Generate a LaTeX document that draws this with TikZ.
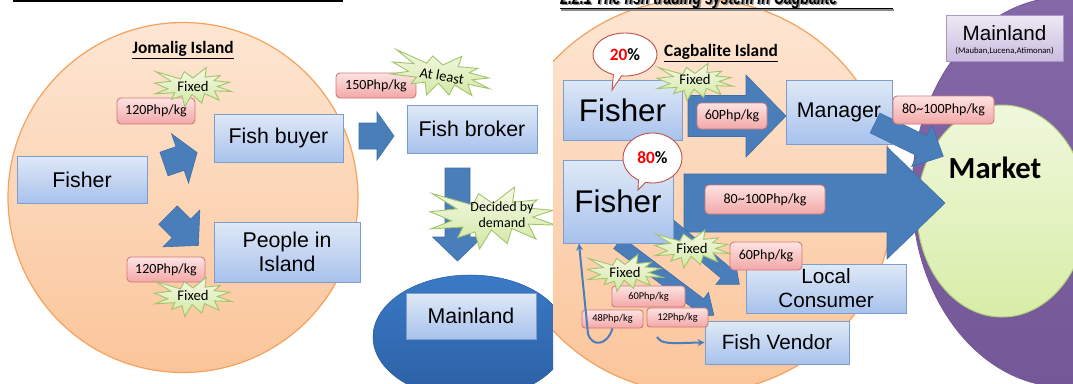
\documentclass[tikz,border=0pt]{standalone}
\usepackage{fontspec}
\usepackage{graphicx}
\setmainfont{Liberation Sans}
\newfontfamily\calfont{Carlito}
\usetikzlibrary{shapes.callouts,arrows.meta}
\newdimen\pu \pu=0.75pt
\definecolor{boxtop}{HTML}{DFE9F7}
\definecolor{boxbot}{HTML}{A8C2EC}
\definecolor{boxline}{HTML}{7E9DCF}
\definecolor{orgtop}{HTML}{FDE6D3}
\definecolor{orgbot}{HTML}{FBC59A}
\definecolor{orgline}{HTML}{F6A15C}
\definecolor{pinktop}{HTML}{FEE3E3}
\definecolor{pinkbot}{HTML}{F3A7A7}
\definecolor{pinkline}{HTML}{D27878}
\definecolor{startop}{HTML}{F4F9E6}
\definecolor{starbot}{HTML}{D3E8A4}
\definecolor{starline}{HTML}{A3C46B}
\definecolor{arrowblue}{HTML}{4A7EBB}
\definecolor{arrowline}{HTML}{3F6EA6}
\definecolor{deepblue}{HTML}{3A7AC6}
\definecolor{deepblue2}{HTML}{2C5FA3}
\definecolor{purp}{HTML}{8468A8}
\definecolor{purp2}{HTML}{735796}
\definecolor{lavtop}{HTML}{EDE8F4}
\definecolor{lavbot}{HTML}{CBBDE0}
\definecolor{lavline}{HTML}{A896C6}
\definecolor{grntop}{HTML}{F0F8DC}
\definecolor{grnbot}{HTML}{D8EDA8}
\definecolor{grnline}{HTML}{B3CF7C}
\definecolor{bubline}{HTML}{C0504D}
\tikzset{
 bluebox/.style={draw=boxline, line width=0.9\pu, top color=boxtop, bottom color=boxbot, inner sep=0pt, align=center, font=\fontsize{16}{18}\selectfont},
 price/.style={draw=pinkline, line width=0.9\pu, top color=pinktop, bottom color=pinkbot, rounded corners=4\pu, inner sep=0pt, font=\calfont\fontsize{10.5}{12}\selectfont},
 smallprice/.style={price, rounded corners=3\pu, font=\calfont\fontsize{7.8}{9}\selectfont},
 bursttxt/.style={inner sep=0pt, align=center, font=\calfont\fontsize{11}{12}\selectfont},
 burstshape/.style={draw=starline, line width=0.9\pu, top color=startop, bottom color=starbot},
 blockarrow/.style={fill=arrowblue, draw=arrowline, line width=0.6\pu},
 island/.style={draw=orgline, line width=1.2\pu, top color=orgtop, bottom color=orgbot},
 bubble/.style={ellipse callout, draw=bubline, line width=0.9\pu, fill=white, inner sep=0pt, font=\calfont\bfseries\fontsize{13}{14}\selectfont},
 thinarrow/.style={draw=arrowblue, line width=1.5pt, -{Stealth[length=5.25pt, width=5.25pt]}},
 pics/burst/.style 2 args={code={
   \path[burstshape] (0,-0.463*#2) -- (0.345*#1,-1*#2) -- (0.311*#1,-0.507*#2) -- (0.702*#1,-0.587*#2)
   -- (0.546*#1,-0.323*#2) -- (0.953*#1,-0.247*#2) -- (0.630*#1,-0.030*#2) -- (1*#1,0.231*#2)
   -- (0.559*#1,0.198*#2) -- (0.680*#1,0.675*#2) -- (0.298*#1,0.339*#2) -- (0.227*#1,0.827*#2)
   -- (-0.025*#1,0.383*#2) -- (-0.214*#1,1*#2) -- (-0.286*#1,0.447*#2) -- (-0.559*#1,0.631*#2)
   -- (-0.475*#1,0.290*#2) -- (-0.988*#1,0.351*#2) -- (-0.655*#1,0.090*#2) -- (-1*#1,-0.202*#2)
   -- (-0.572*#1,-0.295*#2) -- (-0.966*#1,-0.787*#2) -- (-0.323*#1,-0.415*#2) -- (-0.227*#1,-0.787*#2) -- cycle;
 }},
 pics/barrow/.style n args={4}{code={
   \path[blockarrow] (0,-#2/2) -- ({#1-#4},-#2/2) -- ({#1-#4},-#3/2) -- (#1,0) -- ({#1-#4},#3/2) -- ({#1-#4},#2/2) -- (0,#2/2) -- cycle;
 }},
}
\begin{document}
\begin{tikzpicture}[x=0.75pt,y=-0.75pt]
\useasboundingbox (0,0) rectangle (1073,383);
\clip (0,0) rectangle (1073,383);
\fill[white] (0,0) rectangle (1073,383);
% ================= LEFT SLIDE =================
\begin{scope}
\clip (0,0) rectangle (553,383);
\draw[line width=1.6\pu] (13,1.2) -- (343,1.2);
\path[island] (183,197.5) circle[radius=175];
\path[draw=deepblue2, top color=deepblue, bottom color=deepblue2] (470,337) ellipse[x radius=97, y radius=62];
\node[font=\calfont\bfseries\fontsize{13}{14}\selectfont] (jom) at (183,50) {\underline{Jomalig Island}};
% arrows
\pic[rotate=19] at (164,164) {barrow={35}{25}{52}{18}};
\pic[rotate=-45] at (168,215) {barrow={43}{26}{52}{24}};
\pic at (359,136) {barrow={35}{26}{48}{17}};
\pic[rotate=-90] at (457.5,168) {barrow={93}{25}{50}{24}};
% boxes
\node[bluebox, minimum width=130\pu, minimum height=47\pu] (lfisher) at (82,179.5) {Fisher};
\node[bluebox, minimum width=129\pu, minimum height=48\pu] (lbuyer) at (278.5,138) {Fish buyer};
\node[bluebox, minimum width=146\pu, minimum height=60\pu] (lpeople) at (287,252) {People in\\Island};
\node[bluebox, minimum width=130\pu, minimum height=48\pu] (broker) at (472,129) {Fish broker};
\node[bluebox, minimum width=130\pu, minimum height=46\pu] (lmain) at (471,316) {Mainland};
% prices
\node[price, minimum width=78\pu, minimum height=26\pu] (p120a) at (156,111) {120Php/kg};
\node[price, minimum width=78\pu, minimum height=25\pu] (p120b) at (166,269.5) {120Php/kg};
\node[price, minimum width=80\pu, minimum height=25\pu] (p150) at (376,85.5) {150Php/kg};
% bursts
\pic at (193,87) {burst={38.5}{19.5}};
\node[bursttxt] (fx1) at (193,86) {Fixed};
\pic at (193,297) {burst={38.5}{19.5}};
\node[bursttxt] (fx2) at (193,295) {Fixed};
\pic[rotate=-10] at (441,75) {burst={50}{22}};
\node[bursttxt, rotate=-10] (atl) at (442,76) {At least};
\pic at (493,218) {burst={63}{31}};
\node[bursttxt, font=\calfont\fontsize{10.5}{12}\selectfont] (dec) at (502,215) {Decided by\\demand};
\end{scope}
% ================= RIGHT SLIDE =================
\begin{scope}
\clip (553,0) rectangle (1073,383);
\path[draw=purp2, line width=0.8\pu, top color=purp, bottom color=purp2] (1065,192) ellipse[x radius=153, y radius=195];
\path[draw=grnline, line width=1\pu, top color=grntop, bottom color=grnbot] (1002,211) ellipse[x radius=85, y radius=106];
\path[island] (697,196) circle[radius=197];
\node[draw=lavline, line width=0.9\pu, top color=lavtop, bottom color=lavbot, minimum width=117\pu, minimum height=46\pu, inner sep=0pt] (rmain) at (1004.5,38) {};
\node[inner sep=0pt, font=\fontsize{15.5}{17}\selectfont] (rmaint) at (1004.5,33) {Mainland};
\node[inner sep=0pt, font=\calfont\fontsize{6.5}{7}\selectfont] (rmains) at (1004.5,51) {(Mauban,Lucena,Atimonan)};
% title (cut at top, as in the reference)
\node[anchor=base west, inner sep=0pt, text=black!45, font=\bfseries\itshape\fontsize{16}{17}\selectfont] (ttls) at (561.5,5.5) {\scalebox{0.66}[1]{2.2.1 The fish trading system in Cagbalite}};
\node[anchor=base west, inner sep=0pt, font=\bfseries\itshape\fontsize{16}{17}\selectfont] (ttl) at (560,4.2) {\scalebox{0.66}[1]{2.2.1 The fish trading system in Cagbalite}};
\draw[black!45, line width=1.4\pu] (561,9.8) -- (894,9.8);
\draw[line width=1.4\pu] (560,8.2) -- (893,8.2);
\node[font=\calfont\bfseries\fontsize{13}{14}\selectfont] (cag) at (721,53) {\underline{Cagbalite Island}};
% big arrows
\pic at (684,203) {barrow={261}{58}{112}{58}};
\pic at (688,116) {barrow={98}{41}{82}{40}};
\pic[rotate=-40] at (665,222) {barrow={97}{14}{30}{18}};
\pic[rotate=-37] at (618,243) {barrow={120}{14}{30}{18}};
% boxes
\node[bluebox, minimum width=119\pu, minimum height=60\pu, font=\fontsize{23.5}{26}\selectfont] (fisherA) at (622.5,110) {Fisher};
\node[bluebox, minimum width=110\pu, minimum height=83\pu, font=\fontsize{23.5}{26}\selectfont] (fisherB) at (618,201.5) {Fisher};
\node[bluebox, minimum width=106\pu, minimum height=64\pu] (manager) at (839,112) {Manager};
\node[bluebox, minimum width=160\pu, minimum height=49\pu, font=\fontsize{15.5}{18}\selectfont] (localc) at (826,288.5) {Local\\Consumer};
\node[bluebox, minimum width=144\pu, minimum height=43\pu, font=\fontsize{15.5}{18}\selectfont] (vendor) at (777,342.5) {Fish Vendor};
\pic[rotate=-26] at (875,123) {barrow={76}{22}{46}{24}};
\node[font=\calfont\bfseries\fontsize{23}{25}\selectfont] (market) at (995,168) {Market};
% prices
\node[price, minimum width=70\pu, minimum height=26\pu] (r60a) at (732,116) {60Php/kg};
\node[price, minimum width=101\pu, minimum height=28\pu] (r80a) at (943.5,110) {80{\char"7E}100Php/kg};
\node[price, minimum width=120\pu, minimum height=29\pu] (r80b) at (765,199.5) {80{\char"7E}100Php/kg};
\node[price, minimum width=72\pu, minimum height=28\pu] (r60b) at (766,256) {60Php/kg};
\node[smallprice, minimum width=73\pu, minimum height=21\pu] (r60c) at (648.5,296.5) {60Php/kg};
\node[smallprice, minimum width=61\pu, minimum height=18\pu] (r48) at (612.5,319) {48Php/kg};
\node[smallprice, minimum width=61\pu, minimum height=19\pu] (r12) at (677.5,317.5) {12Php/kg};
% bursts
\pic at (695,82) {burst={38}{18.5}};
\node[bursttxt] (fx3) at (695,79) {Fixed};
\pic at (692,249) {burst={37.5}{19}};
\node[bursttxt] (fx4) at (692,248) {Fixed};
\pic at (625,273) {burst={37.5}{18.5}};
\node[bursttxt] (fx5) at (625,272) {Fixed};
% bubbles
\node[bubble, minimum width=64\pu, minimum height=43\pu, callout absolute pointer={(612,90)}] (b20) at (625,54.5) {\textcolor{red}{20}\%};
\node[bubble, minimum width=59\pu, minimum height=50\pu, callout absolute pointer={(638,190)}] (b80) at (652.5,158) {\textcolor{red}{80}\%};
% thin connectors
\coordinate (retend) at (579,243.5);
\draw[thinarrow] (r48.south) .. controls (607,346) and (592,347) .. (588,334) -- (retend);
\coordinate (vs) at (657,337);
\draw[thinarrow] (vs) .. controls (662,345) and (672,343) .. (vendor.west);
\end{scope}
\end{tikzpicture}
\end{document}
